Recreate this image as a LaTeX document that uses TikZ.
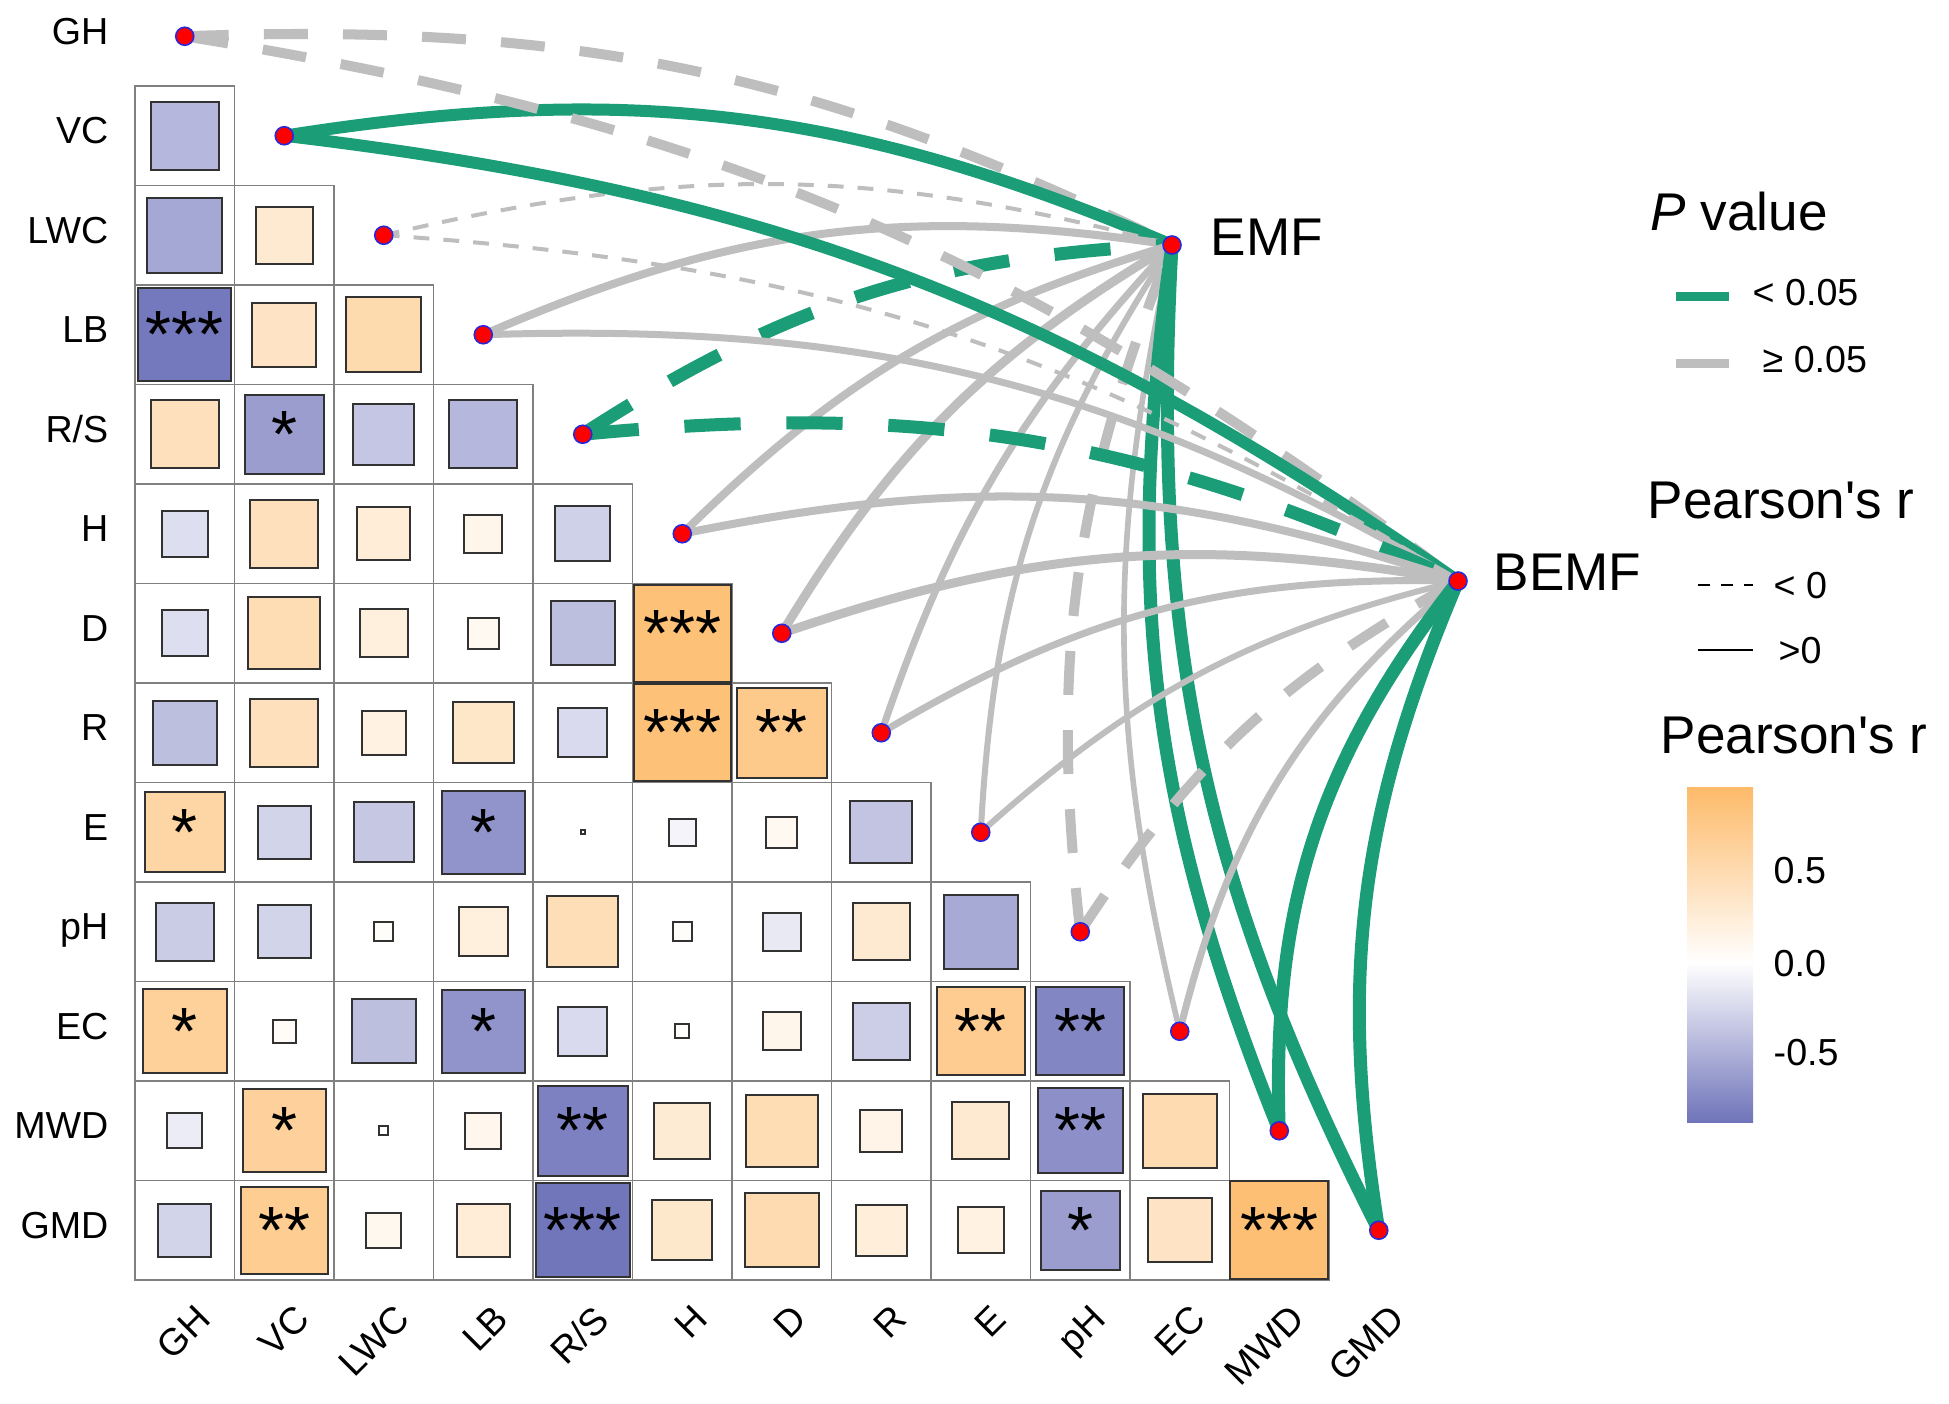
\documentclass[tikz,border=0pt]{standalone}
\usepackage{fontspec}
\setmainfont{Liberation Sans}
\pgfdeclarelayer{bgfill}
\pgfdeclarelayer{edges}
\pgfsetlayers{bgfill,edges,main}
\definecolor{greenC}{HTML}{1B9E77}
\definecolor{grayC}{HTML}{BEBEBE}
\definecolor{orangeC}{RGB}{253,180,92}
\definecolor{blueC}{RGB}{95,100,178}
\definecolor{cellC}{RGB}{128,128,128}
\definecolor{sqC}{RGB}{50,50,50}
\definecolor{dotB}{RGB}{40,40,220}
\begin{document}
\begin{tikzpicture}[x=0.01cm,y=-0.01cm,
  lab/.style={font=\fontsize{10.7}{12}\selectfont, inner sep=0pt},
  big/.style={font=\fontsize{15.1}{18}\selectfont, inner sep=0pt},
  stars/.style={font=\fontsize{19}{20}\selectfont, inner sep=0pt},
  vdot/.style={circle, fill=red, draw=dotB, line width=0.45pt, minimum size=0.18cm, inner sep=0pt},
  cellbox/.style={draw=cellC, line width=0.45pt},
  sqbox/.style={draw=sqC, line width=0.55pt},
  gre/.style={draw=greenC, line width=#1},
  gry/.style={draw=grayC, line width=#1},
]
\begin{pgfonlayer}{bgfill}
\path[fill=white, use as bounding box] (0,0) rectangle (1949,1403);
\end{pgfonlayer}

% grid cells
\foreach \i in {1,...,12}{
  \pgfmathtruncatemacro\jm{\i-1}
  \foreach \j in {0,...,\jm}{
    \draw[cellbox] ({135+99.5*\j},{86+99.5*(\i-1)}) rectangle ++(99.5,99.5);
  }
}
% squares
\foreach \i/\j/\s in {1/0/-68,
 2/0/-75, 2/1/57,
 3/0/-93, 3/1/64, 3/2/75,
 4/0/68, 4/1/-79, 4/2/-61, 4/3/-68,
 5/0/-46, 5/1/68, 5/2/53, 5/3/38, 5/4/-55,
 6/0/-46, 6/1/72, 6/2/48, 6/3/31, 6/4/-64, 6/5/97,
 7/0/-64, 7/1/68, 7/2/44, 7/3/61, 7/4/-49, 7/5/97, 7/6/90,
 8/0/80, 8/1/-53, 8/2/-60, 8/3/-83, 8/4/4, 8/5/-27, 8/6/31, 8/7/-62,
 9/0/-58, 9/1/-53, 9/2/19, 9/3/49, 9/4/71, 9/5/19, 9/6/-38, 9/7/57, 9/8/-74,
 10/0/84, 10/1/23, 10/2/-64, 10/3/-83, 10/4/-49, 10/5/14, 10/6/38, 10/7/-57, 10/8/88, 10/9/-88,
 11/0/-35, 11/1/83, 11/2/9, 11/3/36, 11/4/-90, 11/5/56, 11/6/72, 11/7/42, 11/8/57, 11/9/-85, 11/10/74,
 12/0/-53, 12/1/87, 12/2/35, 12/3/53, 12/4/-94, 12/5/60, 12/6/74, 12/7/51, 12/8/46, 12/9/-79, 12/10/64, 12/11/98}{
  \pgfmathsetmacro\a{abs(\s)}
  \pgfmathtruncatemacro\ng{\s<0}
  \ifnum\ng=1
    \pgfmathtruncatemacro\p{min(100,(\a/99.5)^2*100)}
    \def\cc{blueC}
  \else
    \pgfmathtruncatemacro\p{min(100,(\a/99.5)^2*88)}
    \def\cc{orangeC}
  \fi
  \filldraw[sqbox, fill=\cc!\p!white] ({184.75+99.5*\j-\a/2},{36.25+99.5*\i-\a/2}) rectangle ++(\a,\a);
}
% stars
\foreach \i/\j/\st in {3/0/***, 4/1/*, 6/5/***, 7/5/***, 7/6/**, 8/0/*, 8/3/*, 10/0/*, 10/3/*, 10/8/**, 10/9/**, 11/1/*, 11/4/**, 11/9/**, 12/1/**, 12/4/***, 12/9/*, 12/11/***}{
  \node[stars] (st\i-\j) at ({184.75+99.5*\j},{36.25+99.5*\i}) {\st};
}
% variable dots and labels
\foreach \nm/\lb [count=\k from 0] in {GH/GH,VC/VC,LWC/LWC,LB/LB,RS/{R/S},H/H,D/D,R/R,E/E,pH/pH,EC/EC,MWD/MWD,GMD/GMD}{
  \node[vdot] (v\nm) at ({184.75+99.5*\k},{36.25+99.5*\k}) {};
  \node[lab, anchor=base east] (row\nm) at (109,{44.25+99.5*\k}) {\lb};
  \node[lab, rotate=45, anchor=north east] (col\nm) at ({193.75+99.5*\k},1302) {\lb};
}
\node[vdot] (tEMF) at (1172,245) {};
\node[big, anchor=base west] (lEMF) at (1210,255) {EMF};
\node[vdot] (tBEMF) at (1458,581) {};
\node[big, anchor=base west] (lBEMF) at (1493,590) {BEMF};

\begin{pgfonlayer}{edges}
% to EMF
\draw[gry=2.85pt, dash pattern=on 12.5pt off 10pt] (vGH.center) to[bend left=14] (tEMF.center);
\draw[gre=3.41pt] (vVC.center) to[bend left=16] (tEMF.center);
\draw[gry=1.14pt, dash pattern=on 4.5pt off 4pt] (vLWC.center) to[bend left=14] (tEMF.center);
\draw[gry=2.28pt] (vLB.center) to[bend left=16] (tEMF.center);
\draw[gre=3.7pt, dash pattern=on 16pt off 13pt] (vRS.center) to[bend left=15] (tEMF.center);
\draw[gry=2.28pt] (vH.center) to[bend left=14] (tEMF.center);
\draw[gry=2.56pt] (vD.center) to[bend left=14] (tEMF.center);
\draw[gry=1.99pt] (vR.center) to[bend left=12] (tEMF.center);
\draw[gry=1.71pt] (vE.center) to[bend left=15] (tEMF.center);
\draw[gry=2.85pt, dash pattern=on 12.5pt off 10pt] (vpH.center) to[bend left=14] (tEMF.center);
\draw[gry=1.6pt] (vEC.center) to[bend left=13] (tEMF.center);
\draw[gre=3.7pt] (vMWD.center) to[bend left=15] (tEMF.center);
\draw[gre=3.7pt] (vGMD.center) to[bend left=15] (tEMF.center);
% to BEMF
\draw[gry=2.85pt, dash pattern=on 12.5pt off 10pt] (vGH.center) to[bend left=14] (tBEMF.center);
\draw[gre=3.41pt] (vVC.center) to[bend left=14] (tBEMF.center);
\draw[gry=1.14pt, dash pattern=on 4.5pt off 4pt] (vLWC.center) to[bend left=14] (tBEMF.center);
\draw[gry=1.99pt] (vLB.center) to[bend left=16] (tBEMF.center);
\draw[gre=3.7pt, dash pattern=on 16pt off 13pt] (vRS.center) to[bend left=15] (tBEMF.center);
\draw[gry=2.28pt] (vH.center) to[bend left=15] (tBEMF.center);
\draw[gry=2.56pt] (vD.center) to[bend left=14.5] (tBEMF.center);
\draw[gry=1.99pt] (vR.center) to[bend left=16] (tBEMF.center);
\draw[gry=1.71pt] (vE.center) to[bend left=14] (tBEMF.center);
\draw[gry=2.85pt, dash pattern=on 12.5pt off 10pt] (vpH.center) to[bend left=14] (tBEMF.center);
\draw[gry=1.99pt] (vEC.center) to[bend left=18] (tBEMF.center);
\draw[gre=3.7pt] (vMWD.center) to[bend left=20] (tBEMF.center);
\draw[gre=3.7pt] (vGMD.center) to[bend left=16] (tBEMF.center);
\end{pgfonlayer}

% legend
\node[big, anchor=base west] (pv) at (1650,230) {\textit{P} value};
\draw[greenC, line width=2.56pt] (1676,296) -- (1729,296);
\node[lab, anchor=base west] (pvA) at (1752,305) {< 0.05};
\draw[grayC, line width=2.56pt] (1676,363) -- (1729,363);
\node[lab, anchor=base west] (pvB) at (1762,372) {≥ 0.05};
\node[big, anchor=base west] (prA) at (1647,518) {Pearson\textquotesingle s r};
\draw[black, line width=0.6pt, dash pattern=on 3.3pt off 3.3pt] (1698,585) -- (1753,585);
\node[lab, anchor=base west] (prNeg) at (1773,598) {< 0};
\draw[black, line width=0.6pt] (1698,650) -- (1753,650);
\node[lab, anchor=base west] (prPos) at (1778,663) {>0};
\node[big, anchor=base west] (prB) at (1660,753) {Pearson\textquotesingle s r};
\shade[top color=orangeC!92!white, bottom color=white] (1687,787) rectangle (1753,963);
\shade[top color=white, bottom color=blueC!90!white] (1687,963) rectangle (1753,1122);
\node[lab, anchor=base west] (cb1) at (1773,883) {0.5};
\node[lab, anchor=base west] (cb2) at (1773,976) {0.0};
\node[lab, anchor=base west] (cb3) at (1773,1065) {-0.5};
\end{tikzpicture}
\end{document}
